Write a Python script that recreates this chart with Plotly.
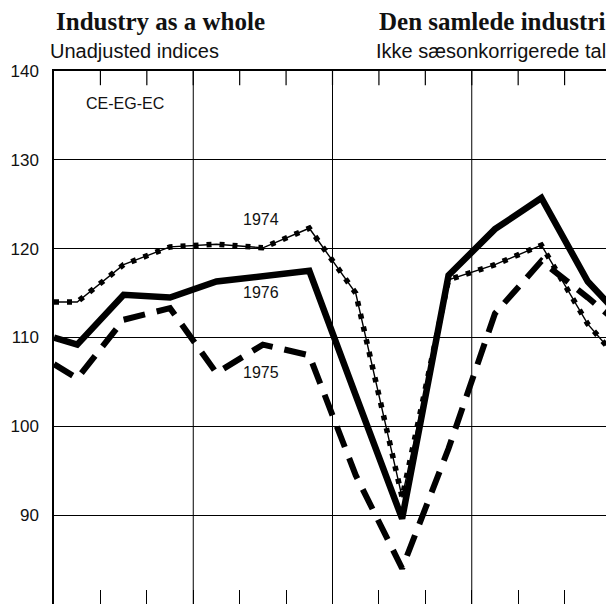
import plotly.graph_objects as go

# monthly index values (mid-month)
months = list(range(1, 13))
idx_1974 = [114.0, 118.2, 120.2, 120.5, 120.1, 122.3, 115.0, 92.0, 116.5, 118.2, 120.4, 111.5]
idx_1975 = [105.4, 112.0, 113.3, 106.0, 109.2, 108.0, 94.5, 84.0, 97.5, 112.7, 118.6, 114.5]
idx_1976 = [109.2, 114.8, 114.5, 116.3, 116.9, 117.5, 103.5, 89.6, 117.0, 122.2, 125.7, 116.3]

# where each curve enters / leaves the frame (carry-over from adjacent years)
edge_1974 = [114.0, 108.5]
edge_1975 = [107.0, 112.3]
edge_1976 = [110.0, 113.5]

x_frame = [0.5, 12.5]
y_frame = [80, 140]
xs = [x_frame[0]] + months + [x_frame[1]]
month_bounds = [m + 0.5 for m in months[:-1]]
quarter_bounds = [3.5, 6.5, 9.5]


def full(vals, edge):
    return [edge[0]] + vals + [edge[1]]


fig = go.Figure()

# 1974 : thin line with beads
fig.add_trace(go.Scatter(x=xs, y=full(idx_1974, edge_1974), mode="lines",
                         line=dict(color="black", width=1.4), hoverinfo="skip"))
fig.add_trace(go.Scatter(x=xs, y=full(idx_1974, edge_1974), mode="lines",
                         line=dict(color="black", width=5.5, dash="5px,8px"), hoverinfo="skip"))
# 1975 : thick dashes
fig.add_trace(go.Scatter(x=xs, y=full(idx_1975, edge_1975), mode="lines",
                         line=dict(color="black", width=6, dash="22px,12px")))
# 1976 : thick solid
fig.add_trace(go.Scatter(x=xs, y=full(idx_1976, edge_1976), mode="lines",
                         line=dict(color="black", width=6.5)))

sans = "Liberation Sans, Arial, sans-serif"
serif = "Liberation Serif, Times New Roman, serif"

fig.update_layout(
    xaxis=dict(
        range=x_frame, tickvals=month_bounds,
        showgrid=False,
        ticks="inside", ticklen=14, tickcolor="black", tickwidth=1,
        showticklabels=False,
        showline=True, linecolor="black", linewidth=1.5, mirror=True,
        zeroline=False,
    ),
    yaxis=dict(
        range=y_frame, tick0=80, dtick=10,
        showgrid=True, gridcolor="black", gridwidth=1,
        ticks="", showline=True, linecolor="black", linewidth=1.5, mirror=True,
        zeroline=False,
        tickfont=dict(family=sans, size=17, color="#111"),
        ticklabelstandoff=10,
    ),
)

# quarter divisions run the full height of the frame
for b in quarter_bounds:
    fig.add_shape(type="line", xref="x", yref="paper", x0=b, x1=b,
                  y0=0, y1=1, layer="below", line=dict(color="black", width=1))

# month ticks hanging from the top frame
for b in month_bounds:
    fig.add_shape(type="line", xref="x", yref="y", x0=b, x1=b,
                  y0=y_frame[1], y1=y_frame[1] - 1.6, layer="above",
                  line=dict(color="black", width=1.2))

notes = [
    dict(text="<b>Industry as a whole</b>", x=0.0, y=1.093, xanchor="left",
         font=dict(family=serif, size=25, color="#111")),
    dict(text="Unadjusted indices", x=-0.01, y=1.037, xanchor="left",
         font=dict(family=sans, size=20, color="#111")),
    dict(text="<b>Den samlede industri</b>", x=0.992, y=1.093, xanchor="right",
         font=dict(family=serif, size=25, color="#111")),
    dict(text="Ikke sæsonkorrigerede tal", x=0.995, y=1.037, xanchor="right",
         font=dict(family=sans, size=20, color="#111")),
]
for n in notes:
    fig.add_annotation(xref="paper", yref="paper", yanchor="middle",
                       showarrow=False, **n)

labels = [("CE-EG-EC", 2.03, 136.3), ("1974", 4.96, 123.3),
          ("1976", 4.96, 115.1), ("1975", 4.96, 106.1)]
for txt, lx, ly in labels:
    fig.add_annotation(text=txt, x=lx, y=ly, showarrow=False,
                       font=dict(family=sans, size=16, color="#111"))

# page body adds an 8px margin, so the figure is sized to fit what remains
fig.update_layout(
    width=606, height=596,
    margin=dict(l=46, r=3, t=63, b=0),
    paper_bgcolor="white", plot_bgcolor="white",
    showlegend=False,
)

fig.write_html("out.html")
